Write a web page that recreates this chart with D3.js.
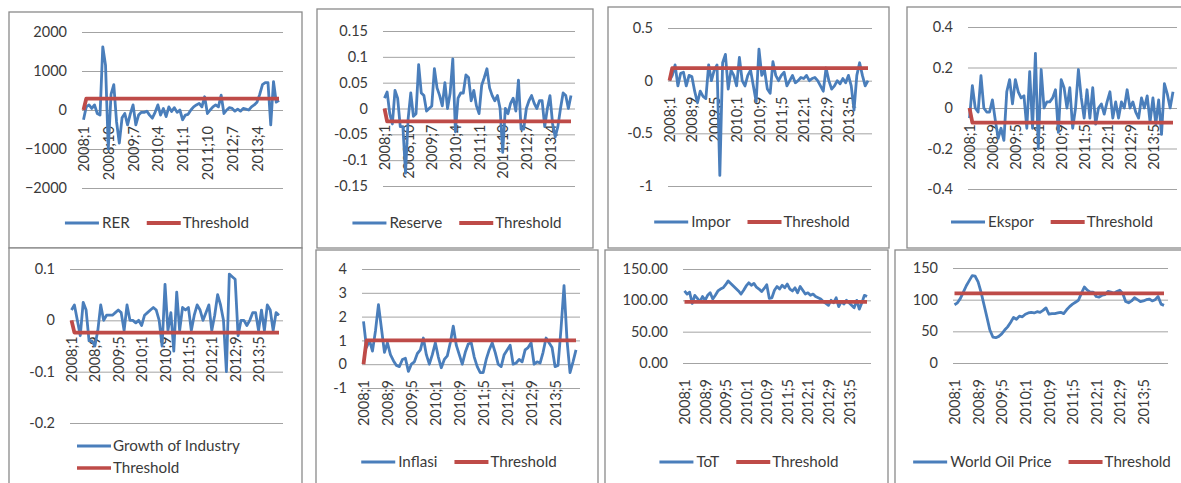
<!DOCTYPE html>
<html><head><meta charset="utf-8">
<script src="https://cdn.jsdelivr.net/npm/d3@7/dist/d3.min.js"></script>
<style>
html,body{margin:0;padding:0;background:#fff;}
svg{display:block;font-family:Lato,"Noto Sans",sans-serif;}
</style></head>
<body><svg id="c" width="1181" height="483"></svg>
<script>
// ---------- data ----------
const categories = [];
for (let y = 2008; y <= 2013; y++) for (let m = 1; m <= 12; m++) categories.push(y + ";" + m);

const ticks9 = ["2008;1","2008;10","2009;7","2010;4","2011;1","2011;10","2012;7","2013;4"];
const ticks8 = ["2008;1","2008;9","2009;5","2010;1","2010;9","2011;5","2012;1","2012;9","2013;5"];

const rer = [-250,80,130,40,130,-90,-130,1620,1150,-1000,
 400,650,-300,-850,-200,-90,-380,-100,130,-380,
 -130,-60,-60,-30,-130,-210,-60,130,-130,40,
 -170,80,-40,60,-60,0,-250,-130,-110,0,
 80,130,170,80,340,-90,0,80,130,80,
 380,-90,0,60,40,-30,20,-30,40,20,
 0,80,130,200,400,650,700,700,-380,730,
 200,250];
const reserve = [0.02,0.032,-0.01,-0.03,0.035,0.02,-0.035,-0.035,-0.125,-0.02,
 0.03,-0.015,-0.01,0.085,0.03,0.025,-0.005,0.0,0.005,0.077,
 0.04,0.025,0.005,0.05,0.0,0.03,0.096,-0.045,0.02,0.03,
 0.03,0.065,0.06,0.015,0.035,0.005,-0.01,0.045,0.06,0.077,
 0.04,0.025,0.015,0.025,0.0,-0.085,0.0,-0.01,0.01,0.02,
 -0.005,0.055,-0.04,-0.04,0.0,0.015,0.025,0.01,0.0,0.015,
 0.015,-0.035,0.0,0.025,-0.03,-0.055,-0.035,0.0,0.03,0.025,
 0.0,0.025];
const impor = [0.0,0.05,0.15,-0.05,0.07,0.08,-0.05,0.05,0.04,-0.1,
 -0.21,-0.1,-0.15,-0.17,0.15,0.0,0.1,0.15,-0.9,0.17,
 0.25,-0.08,0.1,0.05,-0.05,0.22,0.0,-0.05,0.05,0.1,
 -0.05,-0.2,0.3,0.05,0.1,-0.08,-0.12,0.18,0.05,0.0,
 0.05,0.08,-0.05,0.0,0.05,-0.02,0.0,0.03,0.02,0.05,
 0.0,0.02,0.03,0.0,-0.05,-0.1,0.12,0.0,-0.08,-0.05,
 0.0,-0.03,0.02,-0.02,0.05,-0.05,-0.28,0.05,0.17,0.05,
 -0.05,0.0];
const ekspor = [-0.05,0.11,0.0,-0.02,0.16,0.0,-0.02,-0.02,0.04,-0.06,
 -0.15,-0.1,-0.16,0.08,0.14,0.02,0.14,0.08,0.05,0.06,
 -0.1,0.18,-0.1,0.27,-0.2,0.19,0.0,0.03,0.03,0.05,
 0.09,-0.12,0.14,0.1,0.0,0.1,-0.1,0.0,0.19,0.05,
 -0.05,0.09,-0.05,0.1,-0.08,0.0,0.02,-0.03,0.03,0.08,
 -0.05,0.03,-0.05,0.03,0.0,0.09,0.0,0.03,-0.02,-0.05,
 0.05,0.0,0.06,-0.07,0.05,-0.08,0.04,-0.13,0.12,0.07,
 0.0,0.08];
const industry = [0.02,0.03,0.0,-0.03,0.035,0.02,-0.04,-0.04,-0.05,-0.02,
 0.03,0.0,0.01,0.01,0.01,0.015,0.02,0.015,-0.02,0.03,
 0.0,0.0,-0.005,0.0,-0.01,0.01,0.015,0.02,0.025,0.02,
 0.0,-0.05,0.07,-0.02,0.015,-0.06,0.055,-0.02,0.025,0.02,
 0.025,-0.02,0.01,0.03,0.02,0.0,0.015,0.03,-0.02,0.01,
 0.05,0.03,0.0,-0.1,0.09,0.085,0.08,-0.03,0.0,0.0,
 -0.01,0.0,0.015,0.015,-0.02,0.02,-0.02,0.03,0.02,-0.02,
 0.015,0.01];
const inflasi = [1.8,0.7,1.0,0.55,1.4,2.5,1.5,0.5,0.9,0.4,
 0.15,-0.05,-0.1,0.2,0.25,-0.3,0.0,0.1,0.45,0.6,
 1.1,0.4,0.0,0.4,0.9,0.3,-0.15,0.2,0.35,0.9,
 1.6,0.8,0.4,0.0,0.5,0.85,0.9,0.3,-0.1,-0.35,
 -0.35,0.2,0.6,0.9,0.5,0.0,-0.1,0.4,0.6,0.8,
 0.0,0.05,0.2,0.1,0.6,0.7,0.9,0.0,0.1,0.05,
 0.5,1.1,0.9,0.7,-0.1,-0.05,1.5,3.3,1.0,-0.35,
 0.1,0.6];
const tot = [115,110,113,95,108,103,98,106,100,108,
 112,102,108,115,118,120,125,131,127,123,
 119,115,110,116,123,128,124,127,121,118,
 114,119,125,103,104,116,122,118,124,120,
 126,118,115,120,112,122,116,110,112,108,
 110,106,104,102,98,95,92,100,96,104,
 90,98,94,100,96,92,88,100,86,96,
 108,106];
const oil = [92,95,102,112,122,130,138,137,128,112,
 92,72,52,41,40,42,46,52,57,64,
 72,69,74,73,77,79,80,79,81,80,
 83,87,77,78,78,79,80,78,84,89,
 93,96,99,110,120,115,112,112,105,104,
 107,108,113,112,110,113,115,110,97,95,
 98,103,100,97,98,100,101,98,100,105,
 93,91];

// threshold series: first value, then constant level
const thrRER = [0].concat(Array(71).fill(290));
const thrReserve = [0].concat(Array(71).fill(-0.025));
const thrImpor = [0].concat(Array(71).fill(0.12));
const thrEkspor = [0].concat(Array(71).fill(-0.072));
const thrIndustry = [0].concat(Array(71).fill(-0.024));
const thrInflasi = [0].concat(Array(71).fill(1.0));
const thrToT = Array(72).fill(97.5);
const thrOil = Array(72).fill(110);

const yTicksRER = [-2000,-1000,0,1000,2000];
const yTicksReserve = [-0.15,-0.1,-0.05,0,0.05,0.1,0.15];
const yTicksImpor = [-1,-0.5,0,0.5];
const yTicksEkspor = [-0.4,-0.2,0,0.2,0.4];
const yTicksIndustry = [-0.2,-0.1,0,0.1];
const yTicksInflasi = [-1,0,1,2,3,4];
const yTicksToT = [0,50,100,150];
const yTicksOil = [0,50,100,150];

// ---------- layout ----------
const panels = [
 {name:"RER", s:rer, t:thrRER, yt:yTicksRER, xt:ticks9, fmt:d3.format("d"), dom:[-2000,2000],
  frame:[9,12,302,248], gx:[82,283], yr:[188,32], leg:{cx:157,y:223}},
 {name:"Reserve", s:reserve, t:thrReserve, yt:yTicksReserve, xt:ticks9, fmt:String, dom:[-0.15,0.15],
  frame:[317,9,593,248], gx:[383,575], yr:[186,31], leg:{cx:457,y:223}},
 {name:"Impor", s:impor, t:thrImpor, yt:yTicksImpor, xt:ticks8, fmt:String, dom:[-1,0.5],
  frame:[608,7,889,248], gx:[668,872], yr:[186,28], leg:{cx:752,y:222}},
 {name:"Ekspor", s:ekspor, t:thrEkspor, yt:yTicksEkspor, xt:ticks8, fmt:String, dom:[-0.4,0.4],
  frame:[907,7,1200,248], gx:[968,1177], yr:[189,27], leg:{cx:1052,y:222}},
 {name:"Growth of Industry", s:industry, t:thrIndustry, yt:yTicksIndustry, xt:ticks8, fmt:String, dom:[-0.2,0.1],
  frame:[9,248,302,495], gx:[70,283], yr:[423,269], leg:{x:77,y:446,two:true}},
 {name:"Inflasi", s:inflasi, t:thrInflasi, yt:yTicksInflasi, xt:ticks8, fmt:String, dom:[-1,4],
  frame:[316,250,598,495], gx:[362,580], yr:[388,269], leg:{cx:459,y:462}},
 {name:"ToT", s:tot, t:thrToT, yt:yTicksToT, xt:ticks8, fmt:d3.format(".2f"), dom:[0,150],
  frame:[605,250,888,495], gx:[683,871], yr:[363,269], leg:{cx:749,y:462}},
 {name:"World Oil Price", s:oil, t:thrOil, yt:yTicksOil, xt:ticks8, fmt:d3.format("d"), dom:[0,150],
  frame:[895,250,1200,495], gx:[953,1168], yr:[363,268], leg:{cx:1042,y:462}}
];

const BLUE = "#4A7EBB", RED = "#BE4B48", TXT = "#3a3a3a", GRID = "#a3a3a3", FRAME = "#8a8a8a";
const FS = "14.5px", LFS = "15.2px";
const svg = d3.select("#c");

panels.forEach(p => {
  const g = svg.append("g");
  const [fx0, fy0, fx1, fy1] = p.frame;
  g.append("rect").attr("x", fx0).attr("y", fy0).attr("width", fx1 - fx0).attr("height", fy1 - fy0)
    .attr("fill", "#fff").attr("stroke", FRAME).attr("stroke-width", 1.3);

  const x = d3.scalePoint(categories, [p.gx[0] + 1.5, p.gx[1] - 4]);
  const y = d3.scaleLinear().domain(p.dom).range(p.yr);
  const w = p.gx[1] - p.gx[0];

  // y axis with gridlines
  const ya = g.append("g").attr("transform", `translate(${p.gx[0]},0)`)
    .call(d3.axisLeft(y).tickValues(p.yt).tickFormat(p.fmt).tickSize(-w).tickPadding(15));
  ya.select(".domain").remove();
  ya.selectAll("line").attr("stroke", GRID).attr("stroke-width", 1);
  ya.selectAll("text").attr("fill", TXT).style("font-size", FS).style("font-family", "Lato");

  // x axis labels (rotated), at y = 0 crossing
  const axY = y(Math.max(0, p.dom[0]));
  const xa = g.append("g").attr("transform", `translate(0,${axY})`)
    .call(d3.axisBottom(x).tickValues(p.xt).tickSize(0).tickPadding(0));
  xa.select(".domain").remove();
  xa.selectAll("text").attr("fill", TXT).style("font-size", FS).style("font-family", "Lato")
    .attr("y", 0).attr("x", -16).attr("dy", "0.35em").attr("transform", "rotate(-90)")
    .style("text-anchor", "end");

  const line = d3.line().x((d, i) => x(categories[i])).y(d => y(d));
  g.append("path").datum(p.s).attr("d", line).attr("fill", "none").attr("stroke", BLUE)
    .attr("stroke-width", 2.8).attr("stroke-linejoin", "round");
  g.append("path").datum(p.t).attr("d", line).attr("fill", "none").attr("stroke", RED)
    .attr("stroke-width", 3.8).attr("stroke-linejoin", "round");

  // legend
  const lg = g.append("g").style("font-size", LFS).style("font-family", "Lato").attr("fill", TXT);
  const L = 34;
  if (p.leg.two) {
    const rows = [[p.name, BLUE, 2.8], ["Threshold", RED, 3.6]];
    rows.forEach((r, k) => {
      const yy = p.leg.y + k * 22;
      lg.append("line").attr("x1", p.leg.x).attr("x2", p.leg.x + L).attr("y1", yy).attr("y2", yy)
        .attr("stroke", r[1]).attr("stroke-width", r[2]);
      lg.append("text").attr("x", p.leg.x + L + 2).attr("y", yy).attr("dy", "0.35em").text(r[0]);
    });
  } else {
    const t1 = lg.append("text").attr("dy", "0.35em").attr("y", p.leg.y).text(p.name);
    const t2 = lg.append("text").attr("dy", "0.35em").attr("y", p.leg.y).text("Threshold");
    const w1 = t1.node().getComputedTextLength(), w2 = t2.node().getComputedTextLength();
    const total = L + 3 + w1 + 17 + L + 2 + w2;
    let cx = p.leg.cx - total / 2;
    lg.append("line").attr("x1", cx).attr("x2", cx + L).attr("y1", p.leg.y).attr("y2", p.leg.y)
      .attr("stroke", BLUE).attr("stroke-width", 2.8);
    t1.attr("x", cx + L + 3);
    cx += L + 3 + w1 + 17;
    lg.append("line").attr("x1", cx).attr("x2", cx + L).attr("y1", p.leg.y).attr("y2", p.leg.y)
      .attr("stroke", RED).attr("stroke-width", 3.8);
    t2.attr("x", cx + L + 2);
  }
});
</script></body></html>
